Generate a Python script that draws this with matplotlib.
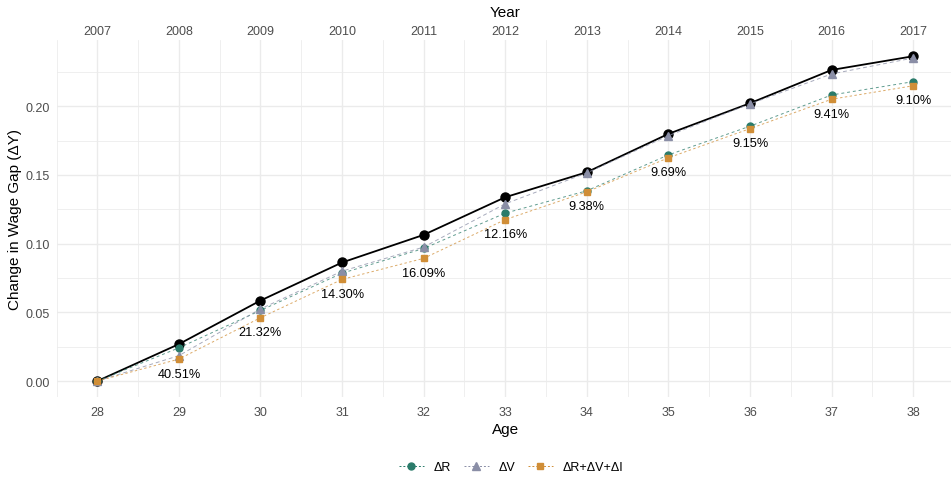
import matplotlib
matplotlib.use("Agg")
import matplotlib.pyplot as plt
from matplotlib.lines import Line2D
from matplotlib.ticker import MultipleLocator

plt.rcParams['font.family'] = ['Liberation Sans', 'DejaVu Sans']

# Data: wage gap by age, with decomposition components
ages = [28, 29, 30, 31, 32, 33, 34, 35, 36, 37, 38]
years = [2007, 2008, 2009, 2010, 2011, 2012, 2013, 2014, 2015, 2016, 2017]
total_gap = [0.0, 0.0269, 0.0586, 0.0863, 0.1064, 0.1338, 0.1520, 0.1799, 0.2022, 0.2264, 0.2364]
delta_r = [0.0, 0.0242, 0.0514, 0.0785, 0.0965, 0.1222, 0.1385, 0.1646, 0.1855, 0.2082, 0.2179]
delta_v = [0.0, 0.0185, 0.0525, 0.0800, 0.0975, 0.1290, 0.1515, 0.1786, 0.2017, 0.2235, 0.2351]
delta_full = [0.0, 0.0160, 0.0461, 0.0740, 0.0893, 0.1175, 0.1377, 0.1625, 0.1837, 0.2051, 0.2149]
gap_pct = [None, 40.51, 21.32, 14.30, 16.09, 12.16, 9.38, 9.69, 9.15, 9.41, 9.10]

teal = '#2A7B6A'
slate = '#8A8EA6'
ochre = '#D08E37'

fig = plt.figure(figsize=(9.51, 4.81), dpi=100)
W, H = 951, 481
left, right, top, bottom = 56.5, 954, 41, 398.3
ax = fig.add_axes([left / W, 1 - bottom / H, (right - left) / W, (bottom - top) / H])

ax.set_xlim(27.5, 38.5)
ax.set_ylim(-0.0118, 0.2482)

# theme_minimal-like grid
for s in ax.spines.values():
    s.set_visible(False)
ax.xaxis.set_major_locator(MultipleLocator(1))
ax.xaxis.set_minor_locator(MultipleLocator(0.5))
ax.yaxis.set_major_locator(MultipleLocator(0.05))
ax.yaxis.set_minor_locator(MultipleLocator(0.025))
ax.grid(which='major', color='#EBEBEB', linewidth=1.0)
ax.grid(which='minor', color='#EBEBEB', linewidth=0.55)
ax.set_axisbelow(True)
ax.tick_params(which='both', length=0, labelsize=9, labelcolor='#4D4D4D')
ax.tick_params(axis='x', pad=6)
ax.tick_params(axis='y', pad=5)
ax.set_xticks(ages)
ax.set_xticklabels([str(a) for a in ages])
ax.yaxis.set_major_formatter(matplotlib.ticker.FormatStrFormatter('%.2f'))

ax.set_xlabel('Age', fontsize=11, labelpad=3)
ax.set_ylabel('Change in Wage Gap (ΔY)', fontsize=11, labelpad=2)

# Year axis on top
top_ax = ax.secondary_xaxis('top')
top_ax.set_xticks(ages)
top_ax.set_xticklabels([str(y) for y in years])
top_ax.tick_params(length=0, labelsize=9, labelcolor='#4D4D4D', pad=1.8)
for s in top_ax.spines.values():
    s.set_visible(False)
top_ax.set_xlabel('Year', fontsize=11, labelpad=6.5)

# Series
ax.plot(ages, total_gap, color='black', lw=1.3, marker='o', ms=6.5, zorder=3)
ax.plot(ages, delta_r, color=teal, lw=0.7, alpha=0.75, dashes=(3, 3), zorder=4)
ax.plot(ages, delta_r, ls='none', marker='o', ms=5, color=teal, zorder=4)
ax.plot(ages, delta_v, color=slate, lw=0.7, alpha=0.75, dashes=(4, 3), zorder=5)
ax.plot(ages, delta_v, ls='none', marker='^', ms=5.5, color=slate, zorder=5)
ax.plot(ages, delta_full, color=ochre, lw=0.7, alpha=0.75, dashes=(2.5, 2.5), zorder=6)
ax.plot(ages, delta_full, ls='none', marker='s', ms=5, color=ochre, zorder=6)

for a, yv, p in zip(ages, delta_full, gap_pct):
    if p is None:
        continue
    ax.annotate(f'{p:.2f}%', (a, yv), xytext=(0, -10.5), textcoords='offset points',
                ha='center', va='center', fontsize=9.2, color='black', zorder=7)

handles = [
    Line2D([], [], color=teal, lw=0.7, dashes=(2, 2), marker='o', ms=5, markeredgecolor=teal),
    Line2D([], [], color=slate, lw=0.7, dashes=(2, 2), marker='^', ms=5.5, markeredgecolor=slate),
    Line2D([], [], color=ochre, lw=0.7, dashes=(2, 2), marker='s', ms=5, markeredgecolor=ochre),
]
fig.legend(handles, ['ΔR', 'ΔV', 'ΔR+ΔV+ΔI'], loc='center', bbox_to_anchor=(511 / W, 1 - 468 / H),
           ncol=3, frameon=False, fontsize=9, handlelength=2.0, handletextpad=0.8,
           columnspacing=1.0)

fig.savefig('out.png', dpi=100)
